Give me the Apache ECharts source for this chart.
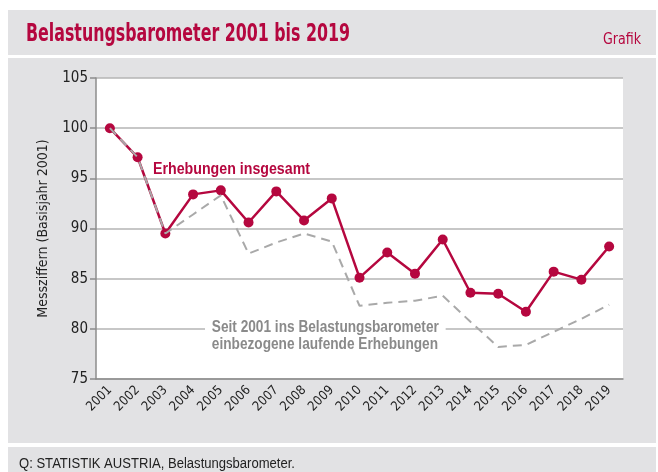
<!DOCTYPE html>
<html>
<head>
<meta charset="utf-8">
<script src="https://cdn.jsdelivr.net/npm/echarts@6/dist/echarts.min.js"></script>
<style>
  html, body { margin: 0; padding: 0; background: #fff; }
  #wrap { position: relative; width: 658px; height: 472px; }
  .band { position: absolute; background: #e2e2e4; }
  #chart { position: absolute; left: 0; top: 0; width: 658px; height: 472px; }
</style>
</head>
<body>
<div id="wrap">
  <div class="band" style="left:8px;top:10px;width:648px;height:45px"></div>
  <div class="band" style="left:8px;top:58px;width:648px;height:385px"></div>
  <div class="band" style="left:8px;top:447px;width:648px;height:25px"></div>
  <div id="chart"></div>
</div>
<script>
var years = ['2001','2002','2003','2004','2005','2006','2007','2008','2009','2010',
             '2011','2012','2013','2014','2015','2016','2017','2018','2019'];
// Erhebungen insgesamt
var gesamt = [100, 97.1, 89.5, 93.4, 93.8, 90.6, 93.7, 90.8, 93.0, 85.1,
              87.6, 85.5, 88.9, 83.6, 83.5, 81.7, 85.7, 84.9, 88.2];
// Seit 2001 ins Belastungsbarometer einbezogene laufende Erhebungen
var seit2001 = [100, 97.1, 89.5, 91.4, 93.3, 87.5, 88.6, 89.5, 88.7, 82.3,
                82.6, 82.8, 83.3, 80.7, 78.2, 78.4, 79.7, 81.0, 82.4];
var yTicks = { min: 75, max: 105, step: 5 };

var narrow = "'DejaVu Sans Condensed', 'Liberation Sans Narrow', sans-serif";
var red = '#b5073f';

// horizontal squeeze so a text gets the width of the condensed original font
var ctx = document.createElement('canvas').getContext('2d');
function fit(text, font, width) {
  ctx.font = font;
  return width / ctx.measureText(text).width;
}

var titleFont = "bold 25px 'DejaVu Sans Condensed', sans-serif";
var grafikFont = "16px 'DejaVu Sans Condensed', sans-serif";
var labelFont = "bold 16px 'Liberation Sans', Arial, sans-serif";
var footFont = "14px 'Liberation Sans', Arial, sans-serif";
var title = 'Belastungsbarometer 2001 bis 2019';
var foot = 'Q: STATISTIK AUSTRIA, Belastungsbarometer.';
var lab1 = 'Erhebungen insgesamt';
var lab2a = 'Seit 2001 ins Belastungsbarometer';
var lab2b = 'einbezogene laufende Erhebungen';
var s2 = fit(lab2a, labelFont, 227);

var chart = echarts.init(document.getElementById('chart'));
chart.setOption({
  animation: false,
  grid: {
    left: 96, right: 35, top: 78, bottom: 93,
    show: true, backgroundColor: '#fff', borderWidth: 0
  },
  xAxis: {
    type: 'category',
    data: years,
    boundaryGap: true,
    axisLine: { lineStyle: { color: '#8c8c8c', width: 1.5 } },
    axisTick: { alignWithLabel: true, length: 6, lineStyle: { color: '#8c8c8c', width: 1.5 } },
    axisLabel: { rotate: 45, color: '#222', fontSize: 13, fontFamily: narrow, margin: 9, interval: 0 }
  },
  yAxis: {
    type: 'value',
    min: yTicks.min, max: yTicks.max, interval: yTicks.step,
    name: 'Messziffern (Basisjahr 2001)',
    nameLocation: 'middle',
    nameGap: 46,
    nameTextStyle: { color: '#222', fontSize: 14, fontFamily: narrow },
    axisLine: { show: true, lineStyle: { color: '#8c8c8c', width: 1.5 } },
    axisTick: { show: true, length: 6, lineStyle: { color: '#8c8c8c', width: 1.5 } },
    axisLabel: { color: '#222', fontSize: 15, fontFamily: narrow, margin: 8 },
    splitLine: { lineStyle: { color: '#b4b4b4', width: 1.5 } }
  },
  series: [
    {
      name: 'Erhebungen insgesamt',
      type: 'line',
      data: gesamt,
      z: 2,
      symbol: 'circle',
      symbolSize: 10,
      lineStyle: { color: red, width: 2.5 },
      itemStyle: { color: red }
    },
    {
      name: 'Seit 2001',
      type: 'line',
      data: seit2001,
      z: 3,
      symbol: 'none',
      lineStyle: { color: '#a9a9a9', width: 2, type: [9, 6] }
    }
  ],
  graphic: [
    { type: 'text', x: 26, y: 34.5, scaleX: fit(title, titleFont, 324),
      style: { text: title, fill: red, font: titleFont, verticalAlign: 'middle' } },
    { type: 'text', x: 641, y: 39.5, scaleX: fit('Grafik', grafikFont, 38),
      style: { text: 'Grafik', fill: red, font: grafikFont, align: 'right', verticalAlign: 'middle' } },
    { type: 'text', x: 153, y: 169.5, z: 10, scaleX: fit(lab1, labelFont, 157),
      style: { text: lab1, fill: red, font: labelFont, verticalAlign: 'middle' } },
    { type: 'text', x: 205, y: 317, z: 10, scaleX: s2,
      style: { text: lab2a + '\n' + lab2b, fill: '#8a8a8a', font: labelFont,
               lineHeight: 17, align: 'left', verticalAlign: 'top',
               backgroundColor: '#fff', padding: [2, 8, 2, 8] } },
    { type: 'text', x: 19, y: 464, scaleX: fit(foot, footFont, 276),
      style: { text: foot, fill: '#222', font: footFont, verticalAlign: 'middle' } }
  ]
});
</script>
</body>
</html>
